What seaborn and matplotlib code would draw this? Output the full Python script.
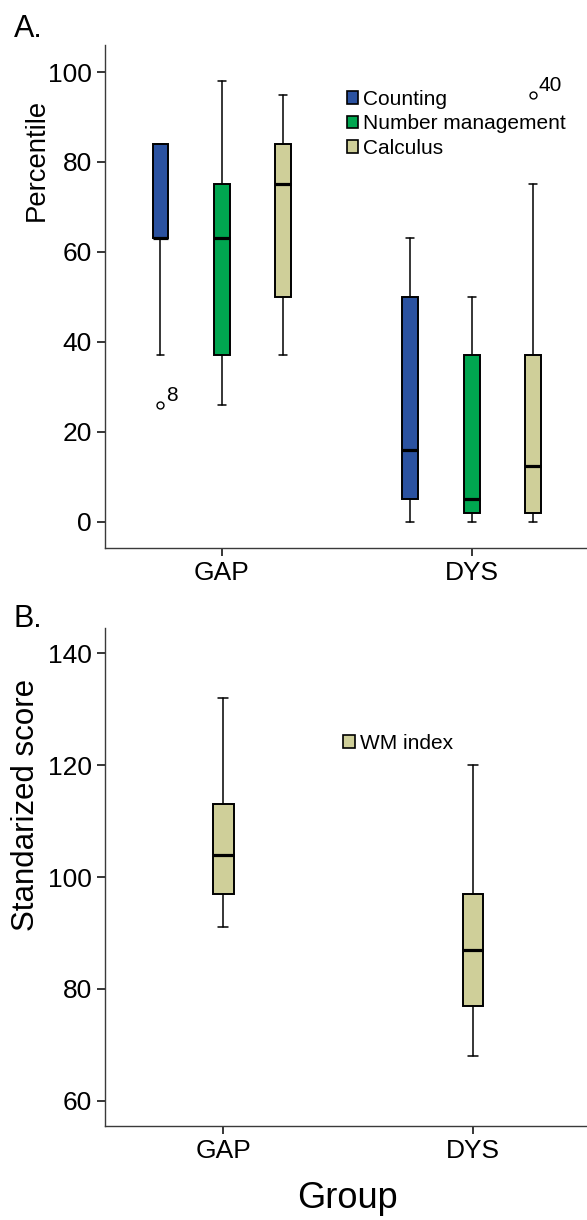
import matplotlib
matplotlib.use("Agg")
import matplotlib.pyplot as plt
from matplotlib.patches import Patch
import seaborn as sns

# groups and the three math skills of panel A
groups = ["GAP", "DYS"]
skills = ["Counting", "Number management", "Calculus"]
skill_colors = ["#2B52A0", "#00A650", "#CFCF99"]

# box summaries per group: [low whisker, q1, median, q3, high whisker]
counting = [[37, 63, 63, 84, 84], [0, 5, 16, 50, 63]]
number_management = [[26, 37, 63, 75, 98], [0, 2, 5, 37, 50]]
calculus = [[37, 50, 75, 84, 95], [0, 2, 12.5, 37, 75]]

# outliers: (group, skill, value, case label)
outliers = [("GAP", "Counting", 26, "8"), ("DYS", "Calculus", 95, "40")]

# panel B, working memory index
wm_label = "WM index"
wm_color = "#CFCF99"
wm_index = [[91, 97, 104, 113, 132], [68, 77, 87, 97, 120]]

sns.set_style("ticks")
plt.rcParams["font.family"] = ["Liberation Sans", "DejaVu Sans"]
plt.rcParams["axes.edgecolor"] = "#3a3a3a"
plt.rcParams["axes.linewidth"] = 1.0
plt.rcParams["text.color"] = "black"
plt.rcParams["axes.labelcolor"] = "black"
plt.rcParams["xtick.color"] = "black"
plt.rcParams["ytick.color"] = "black"


def make_stats(summary, fliers=()):
    lo, q1, med, q3, hi = summary
    return dict(whislo=lo, q1=q1, med=med, q3=q3, whishi=hi, fliers=list(fliers))


def draw_box(ax, stats, pos, width, color):
    ax.bxp([stats], positions=[pos], widths=width, patch_artist=True,
           manage_ticks=False,
           boxprops=dict(facecolor=color, edgecolor="black", linewidth=1.4),
           medianprops=dict(color="black", linewidth=2.3),
           whiskerprops=dict(color="black", linewidth=1.1),
           capprops=dict(color="black", linewidth=1.1),
           flierprops=dict(marker="o", markersize=5, markerfacecolor="white",
                           markeredgecolor="black", markeredgewidth=1.0))


fig = plt.figure(figsize=(5.87, 12.2), dpi=100)
axA = fig.add_axes([0.179, 0.5508, 0.82, 0.4123])
axB = fig.add_axes([0.179, 0.0770, 0.82, 0.4082])

# ---- panel A
offset = 0.246
series = [counting, number_management, calculus]
for gi, g in enumerate(groups):
    for si, s in enumerate(skills):
        fl = [o[2] for o in outliers if o[0] == g and o[1] == s]
        draw_box(axA, make_stats(series[si][gi], fl), gi + (si - 1) * offset,
                 0.064, skill_colors[si])

for g, s, v, lab in outliers:
    x = groups.index(g) + (skills.index(s) - 1) * offset
    axA.annotate(lab, (x, v), xytext=(4, 2.5), textcoords="offset points",
                 ha="left", va="baseline", fontsize=15)

axA.set_xlim(-0.468, 1.46)
axA.set_ylim(-5.8, 106)
axA.set_yticks(range(0, 101, 20))
axA.set_xticks(range(len(groups)))
axA.set_xticklabels(groups)
axA.set_ylabel("Percentile", fontsize=19.8, va="center")
axA.yaxis.set_label_coords(-0.141, 0.772)

handlesA = [Patch(facecolor=c, edgecolor="black", linewidth=1.2) for c in skill_colors]
axA.legend(handlesA, skills, loc="upper left", bbox_to_anchor=(0.502, 0.911),
           frameon=False, borderaxespad=0, borderpad=0, fontsize=15,
           handlelength=0.55, handleheight=0.55, handletextpad=0.25,
           labelspacing=0.27)

# ---- panel B
for gi, g in enumerate(groups):
    draw_box(axB, make_stats(wm_index[gi]), gi, 0.082, wm_color)

axB.set_xlim(-0.474, 1.455)
axB.set_ylim(55.5, 144.5)
axB.set_yticks(range(60, 141, 20))
axB.set_xticks(range(len(groups)))
axB.set_xticklabels(groups)
axB.set_ylabel("Standarized score", fontsize=22.5, va="center")
axB.yaxis.set_label_coords(-0.164, 0.645)
axB.set_xlabel("Group", fontsize=26, va="center")
axB.xaxis.set_label_coords(0.504, -0.145)

handlesB = [Patch(facecolor=wm_color, edgecolor="black", linewidth=1.2)]
axB.legend(handlesB, [wm_label], loc="upper left", bbox_to_anchor=(0.495, 0.788),
           frameon=False, borderaxespad=0, borderpad=0, fontsize=15,
           handlelength=0.55, handleheight=0.55, handletextpad=0.25)

for ax in (axA, axB):
    sns.despine(ax=ax)
    ax.tick_params(axis="both", labelsize=19, length=6, width=1.1,
                   color="black", pad=3.5)

fig.text(14 / 587, 1 - 37 / 1220, "A.", fontsize=22, va="baseline")
fig.text(14 / 587, 1 - 627 / 1220, "B.", fontsize=22, va="baseline")

fig.savefig("out.png", dpi=100)
